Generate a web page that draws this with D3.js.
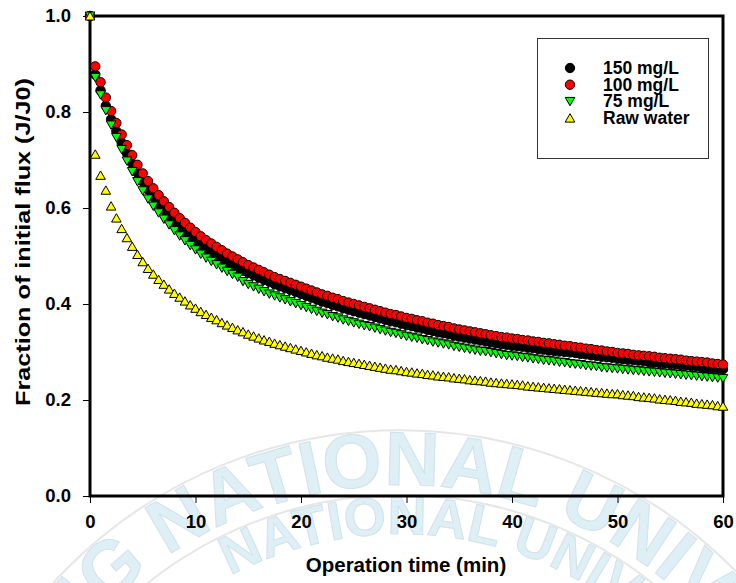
<!DOCTYPE html>
<html lang="en">
<head>
<meta charset="UTF-8">
<title>Fraction of initial flux</title>
<script src="https://d3js.org/d3.v7.min.js"></script>
<style>
  body { margin: 0; background: #fff; }
  svg { display: block; font-family: "Liberation Sans", Arial, sans-serif; }
  .tick text { font-weight: bold; fill: #000; }
  .legend text { font-weight: bold; font-size: 17.5px; fill: #000; }
  .title { font-weight: bold; fill: #000; }
</style>
</head>
<body>
<div id="chart"></div>
<script>
// operation time (min), one reading every 0.5 min
const times = [
  0,0.5,1,1.5,2,2.5,3,3.5,4,4.5,5,5.5,6,6.5,7,7.5,8,8.5,9,9.5,
  10,10.5,11,11.5,12,12.5,13,13.5,14,14.5,15,15.5,16,16.5,17,17.5,18,18.5,19,19.5,
  20,20.5,21,21.5,22,22.5,23,23.5,24,24.5,25,25.5,26,26.5,27,27.5,28,28.5,29,29.5,
  30,30.5,31,31.5,32,32.5,33,33.5,34,34.5,35,35.5,36,36.5,37,37.5,38,38.5,39,39.5,
  40,40.5,41,41.5,42,42.5,43,43.5,44,44.5,45,45.5,46,46.5,47,47.5,48,48.5,49,49.5,
  50,50.5,51,51.5,52,52.5,53,53.5,54,54.5,55,55.5,56,56.5,57,57.5,58,58.5,59,59.5,60
];

// J/J0 for each series
const flux150 = [
  1.000,0.878,0.845,0.813,0.785,0.760,0.736,0.714,0.693,0.673,
  0.655,0.638,0.623,0.609,0.596,0.584,0.572,0.561,0.551,0.541,
  0.532,0.523,0.515,0.508,0.501,0.494,0.487,0.481,0.475,0.469,
  0.465,0.460,0.455,0.450,0.446,0.441,0.437,0.433,0.429,0.425,
  0.421,0.417,0.413,0.409,0.405,0.402,0.398,0.395,0.391,0.388,
  0.385,0.382,0.379,0.376,0.373,0.370,0.367,0.364,0.362,0.359,
  0.356,0.354,0.351,0.349,0.346,0.344,0.341,0.339,0.337,0.334,
  0.332,0.330,0.328,0.326,0.324,0.322,0.320,0.318,0.316,0.315,
  0.313,0.312,0.311,0.309,0.308,0.306,0.305,0.303,0.302,0.301,
  0.300,0.299,0.298,0.296,0.295,0.293,0.292,0.290,0.289,0.288,
  0.286,0.285,0.284,0.283,0.282,0.281,0.279,0.278,0.277,0.276,
  0.275,0.274,0.273,0.272,0.271,0.270,0.268,0.267,0.266,0.265,
  0.264
];
const flux100 = [
  1.000,0.895,0.862,0.830,0.802,0.777,0.753,0.731,0.710,0.690,
  0.672,0.656,0.641,0.627,0.614,0.602,0.590,0.579,0.569,0.559,
  0.550,0.541,0.533,0.526,0.519,0.512,0.505,0.499,0.493,0.487,
  0.481,0.476,0.471,0.466,0.461,0.456,0.452,0.448,0.444,0.440,
  0.436,0.432,0.428,0.424,0.420,0.417,0.413,0.410,0.406,0.403,
  0.400,0.397,0.394,0.391,0.388,0.385,0.382,0.379,0.377,0.374,
  0.371,0.369,0.366,0.364,0.361,0.359,0.356,0.354,0.352,0.349,
  0.347,0.345,0.343,0.341,0.339,0.337,0.335,0.333,0.331,0.330,
  0.328,0.327,0.325,0.324,0.322,0.321,0.319,0.318,0.316,0.315,
  0.313,0.312,0.310,0.309,0.307,0.306,0.304,0.303,0.301,0.300,
  0.298,0.297,0.296,0.294,0.293,0.292,0.291,0.290,0.288,0.287,
  0.286,0.285,0.284,0.282,0.281,0.280,0.279,0.278,0.276,0.275,
  0.274
];
const flux75 = [
  1.000,0.872,0.836,0.803,0.773,0.747,0.722,0.698,0.676,0.655,
  0.636,0.619,0.604,0.590,0.577,0.565,0.553,0.542,0.532,0.522,
  0.513,0.504,0.496,0.489,0.482,0.475,0.468,0.462,0.456,0.447,
  0.441,0.436,0.431,0.426,0.421,0.417,0.413,0.409,0.405,0.401,
  0.397,0.393,0.389,0.385,0.381,0.378,0.374,0.371,0.367,0.364,
  0.361,0.358,0.355,0.353,0.350,0.347,0.344,0.341,0.339,0.336,
  0.333,0.331,0.329,0.326,0.324,0.321,0.319,0.317,0.315,0.312,
  0.310,0.308,0.306,0.304,0.302,0.301,0.299,0.297,0.295,0.293,
  0.292,0.291,0.289,0.288,0.286,0.285,0.283,0.282,0.281,0.279,
  0.278,0.276,0.275,0.274,0.272,0.271,0.270,0.268,0.267,0.266,
  0.265,0.264,0.263,0.262,0.261,0.260,0.259,0.258,0.257,0.256,
  0.255,0.254,0.253,0.252,0.251,0.250,0.249,0.248,0.247,0.246,
  0.245
];
const fluxRaw = [
  1.000,0.712,0.668,0.637,0.604,0.579,0.557,0.538,0.520,0.503,
  0.488,0.474,0.462,0.451,0.441,0.431,0.422,0.414,0.406,0.398,
  0.391,0.384,0.378,0.372,0.367,0.361,0.356,0.351,0.346,0.342,
  0.337,0.333,0.329,0.325,0.322,0.318,0.315,0.312,0.309,0.306,
  0.303,0.300,0.297,0.294,0.292,0.289,0.287,0.285,0.282,0.280,
  0.278,0.276,0.274,0.272,0.270,0.268,0.266,0.264,0.263,0.261,
  0.259,0.258,0.256,0.255,0.253,0.252,0.250,0.249,0.248,0.246,
  0.245,0.244,0.242,0.241,0.240,0.239,0.237,0.236,0.235,0.234,
  0.233,0.232,0.231,0.229,0.228,0.227,0.226,0.225,0.224,0.223,
  0.222,0.221,0.220,0.219,0.218,0.217,0.216,0.215,0.214,0.213,
  0.213,0.211,0.210,0.209,0.207,0.206,0.205,0.204,0.202,0.201,
  0.200,0.199,0.197,0.196,0.195,0.193,0.192,0.191,0.190,0.188,
  0.187
];

const seriesNames = ["150 mg/L", "100 mg/L", "75 mg/L", "Raw water"];
const xTicks = [0, 10, 20, 30, 40, 50, 60];
const yTicks = [0.0, 0.2, 0.4, 0.6, 0.8, 1.0];

const width = 736, height = 583;
const plot = {left: 90, right: 723, top: 16, bottom: 496};

const series = [
  {name: seriesNames[0], values: flux150, shape: "circle", fill: "#000000"},
  {name: seriesNames[1], values: flux100, shape: "circle", fill: "#ff0000"},
  {name: seriesNames[2], values: flux75, shape: "down", fill: "#00ff00"},
  {name: seriesNames[3], values: fluxRaw, shape: "up", fill: "#ffff00"}
];

const svg = d3.select("#chart").append("svg")
  .attr("width", width)
  .attr("height", height);

// faint watermark behind the chart
const wm = svg.append("g").attr("class", "watermark");
const cx = 400, cy = 900;
const arcPath = r => `M${cx - r},${cy} A${r},${r} 0 0 1 ${cx + r},${cy}`;
[470, 405].forEach(r => {
  wm.append("path").attr("d", arcPath(r))
    .attr("fill", "none").attr("stroke", "#e6e6e6").attr("stroke-width", 2);
});
wm.append("path").attr("id", "wmOuter").attr("d", arcPath(415)).attr("fill", "none");
wm.append("path").attr("id", "wmInner").attr("d", arcPath(366)).attr("fill", "none");
wm.append("text")
  .attr("font-size", 76).attr("font-weight", "bold")
  .attr("fill", "#deeff5").attr("stroke", "#d0e3e9").attr("stroke-width", 1)
  .append("textPath").attr("href", "#wmOuter").attr("startOffset", 160)
  .text("YONG NATIONAL UNIVERSITY");
wm.append("text")
  .attr("font-size", 54).attr("font-weight", "bold")
  .attr("fill", "#deeff5").attr("stroke", "#d0e3e9").attr("stroke-width", 1)
  .append("textPath").attr("href", "#wmInner").attr("startOffset", 398)
  .text("NATIONAL UNIVERSITY");

const x = d3.scaleLinear().domain([0, 60]).range([plot.left, plot.right]);
const y = d3.scaleLinear().domain([0, 1]).range([plot.bottom, plot.top]);

// axes
svg.append("g")
  .attr("transform", `translate(0,${plot.bottom})`)
  .call(d3.axisBottom(x).tickValues(xTicks).tickSize(7).tickPadding(12))
  .call(g => g.select(".domain").remove())
  .call(g => g.selectAll(".tick line").attr("stroke", "#000").attr("stroke-width", 1))
  .call(g => g.selectAll(".tick text").attr("font-size", 18.5).attr("font-family", "Liberation Sans, Arial"));

svg.append("g")
  .attr("transform", `translate(${plot.left},0)`)
  .call(d3.axisLeft(y).tickValues(yTicks).tickFormat(d3.format(".1f")).tickSize(7).tickPadding(12))
  .call(g => g.select(".domain").remove())
  .call(g => g.selectAll(".tick line").attr("stroke", "#000").attr("stroke-width", 1))
  .call(g => g.selectAll(".tick text").attr("font-size", 18.5).attr("font-family", "Liberation Sans, Arial"));

// frame
svg.append("rect")
  .attr("x", plot.left).attr("y", plot.top)
  .attr("width", plot.right - plot.left).attr("height", plot.bottom - plot.top)
  .attr("fill", "none").attr("stroke", "#000").attr("stroke-width", 3);

// symbols
const shapePath = {
  down: "M-4.8,-4L4.8,-4L0,4.4Z",
  up: "M-4.8,4L4.8,4L0,-4.4Z"
};
function drawSymbol(sel, shape, fill) {
  if (shape === "circle") {
    sel.append("circle").attr("r", 4.7)
      .attr("fill", fill).attr("stroke", "#000").attr("stroke-width", 1);
  } else {
    sel.append("path").attr("d", shapePath[shape])
      .attr("fill", fill).attr("stroke", "#000").attr("stroke-width", 1);
  }
}

series.forEach(s => {
  const g = svg.append("g");
  g.selectAll("g")
    .data(s.values.map((v, i) => ({t: times[i], v})))
    .join("g")
    .attr("transform", d => `translate(${x(d.t)},${y(d.v)})`)
    .each(function() { drawSymbol(d3.select(this), s.shape, s.fill); });
});

// axis titles
svg.append("text").attr("class", "title")
  .attr("x", 406).attr("y", 572)
  .attr("text-anchor", "middle").attr("font-size", 20.5)
  .text("Operation time (min)");

svg.append("text").attr("class", "title")
  .attr("transform", "translate(30,242) rotate(-90)")
  .attr("text-anchor", "middle").attr("font-size", 20)
  .attr("textLength", 328).attr("lengthAdjust", "spacingAndGlyphs")
  .text("Fraction of initial flux (J/J0)");

// legend
const legend = svg.append("g").attr("class", "legend");
legend.append("rect")
  .attr("x", 537.5).attr("y", 38.5).attr("width", 171).attr("height", 120)
  .attr("fill", "#fff").attr("stroke", "#333").attr("stroke-width", 1);
series.forEach((s, i) => {
  const row = legend.append("g").attr("transform", `translate(570,${68 + i * 16.7})`);
  drawSymbol(row, s.shape, s.fill);
  row.append("text").attr("x", 33).attr("y", 6).text(s.name);
});
</script>
</body>
</html>
